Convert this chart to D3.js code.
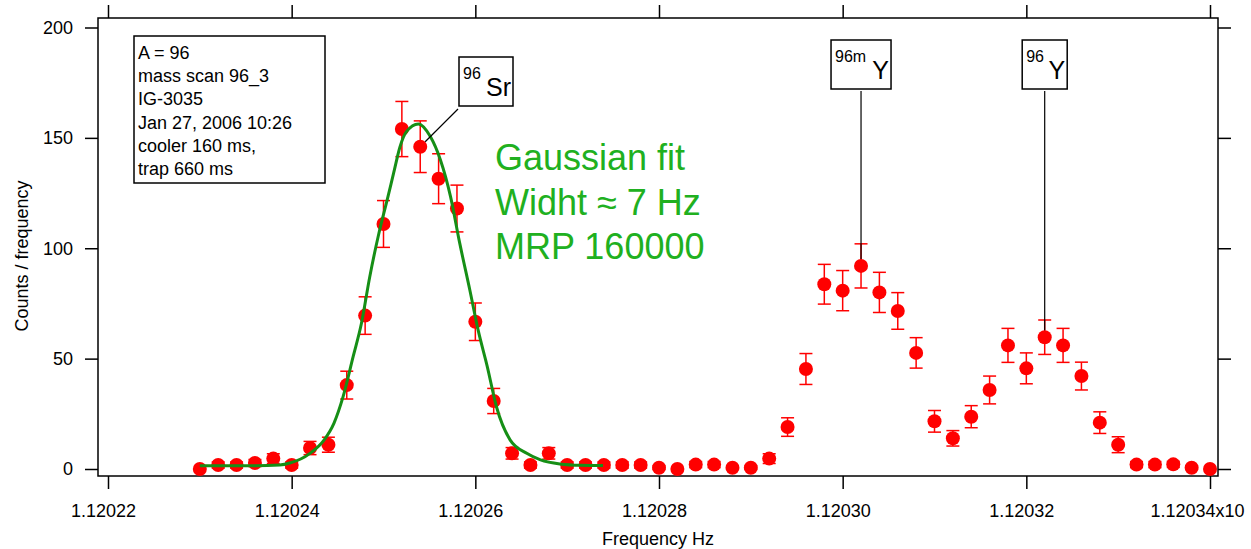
<!DOCTYPE html>
<html>
<head>
<meta charset="utf-8">
<script src="https://cdn.jsdelivr.net/npm/d3@7"></script>
<style>
  body { margin: 0; background: #fff; }
  text { font-family: Arial, "Liberation Sans", Helvetica, sans-serif; }
</style>
</head>
<body>
<div id="chart"></div>
<script>
// measured frequencies (Hz, x10^6)
var freqs = [1.120230, 1.120232, 1.120234, 1.120236, 1.120238, 1.120240, 1.120242, 1.120244,
  1.120246, 1.120248, 1.120250, 1.120252, 1.120254, 1.120256, 1.120258, 1.120260,
  1.120262, 1.120264, 1.120266, 1.120268, 1.120270, 1.120272, 1.120274, 1.120276,
  1.120278, 1.120280, 1.120282, 1.120284, 1.120286, 1.120288, 1.120290, 1.120292,
  1.120294, 1.120296, 1.120298, 1.120300, 1.120302, 1.120304, 1.120306, 1.120308,
  1.120310, 1.120312, 1.120314, 1.120316, 1.120318, 1.120320, 1.120322, 1.120324,
  1.120326, 1.120328, 1.120330, 1.120332, 1.120334, 1.120336, 1.120338, 1.120340];

var counts = [0, 1.8, 1.8, 2.7, 4.7, 1.8, 9.5, 11, 38, 69.5, 111, 154, 146, 131.5, 118, 66.7,
  30.8, 7.1, 1.8, 7.1, 1.8, 1.8, 1.8, 1.8, 1.8, 0.6, 0, 2, 2, 0.6, 0.6, 4.7,
  19, 45.3, 83.7, 80.8, 92, 80, 71.6, 52.6, 21.6, 13.9, 23.7, 35.8, 56, 45.6, 59.7, 56,
  42.1, 21, 11, 2, 2, 2.1, 0.6, 0];

var errors = [0, 1.4, 1.4, 1.6, 2.2, 1.4, 3, 3.4, 6.3, 8.5, 10.6, 12.5, 11.7, 11.3, 10.6, 8.5,
  5.7, 2.6, 1.4, 2.6, 1.4, 1.4, 1.4, 1.4, 1.4, 0.8, 0, 1.4, 1.4, 0.8, 0.8, 2.2,
  4.2, 7, 9, 9.1, 10, 9.1, 8.3, 6.9, 4.9, 3.5, 5, 6.3, 7.7, 7, 7.8, 7.7,
  6.3, 4.9, 3.6, 1.4, 1.4, 1.4, 0.8, 0];

// gaussian fit curve
var fitFreqs = [1.1202300, 1.1202360, 1.1202387, 1.1202398, 1.1202420, 1.1202435, 1.1202446,
  1.1202456, 1.1202467, 1.1202476, 1.1202485, 1.1202495, 1.1202504, 1.1202511, 1.1202518,
  1.1202525, 1.1202538, 1.1202551, 1.1202562, 1.1202573, 1.1202583, 1.1202594, 1.1202603,
  1.1202613, 1.1202623, 1.1202638, 1.1202656, 1.1202671, 1.1202692, 1.1202715, 1.1202739];
var fitCounts = [1.5, 1.5, 1.8, 2.7, 7.1, 13, 20.7,
  32.8, 51, 66, 87, 106.8, 121.9, 134, 146,
  152.8, 156.3, 150.6, 140, 123.4, 102.3, 81.1, 63,
  46.4, 28.2, 13.1, 7.1, 4.1, 2.3, 1.7, 1.6];

var xTicks = [1.12022, 1.12024, 1.12026, 1.12028, 1.12030, 1.12032, 1.12034];
var yTicks = [0, 50, 100, 150, 200];

var infoLines = ["A = 96", "mass scan 96_3", "IG-3035", "Jan 27, 2006 10:26", "cooler 160 ms,", "trap 660 ms"];
var fitLines = ["Gaussian fit", "Widht \u2248 7 Hz", "MRP 160000"];

var svgWidth = 1251, svgHeight = 549;
var frame = {left: 98, right: 1218, top: 18, bottom: 476};

var svg = d3.select("#chart").append("svg")
  .attr("width", svgWidth)
  .attr("height", svgHeight);

var x = d3.scaleLinear().domain([1.12022, 1.12034]).range([108, 1210]);
var y = d3.scaleLinear().domain([0, 200]).range([469, 27.5]);

var red = "#ff0000";

// axes
var fmt = d3.format(".5f");
var bottomAxis = d3.axisBottom(x).tickValues(xTicks).tickSize(13).tickSizeOuter(0).tickPadding(15)
  .tickFormat(d => d === 1.12034 ? "1.12034x10" : fmt(d));

var gx = svg.append("g")
  .attr("transform", `translate(0, ${frame.bottom})`)
  .call(bottomAxis);
gx.selectAll("text").attr("dx", -5);
gx.selectAll("text").filter(d => d === 1.12034)
  .attr("text-anchor", "start").attr("dx", -60);

svg.append("g")
  .attr("transform", `translate(0, ${frame.top})`)
  .call(d3.axisTop(x).tickValues(xTicks).tickSize(13).tickSizeOuter(0).tickFormat(""));

svg.append("g")
  .attr("transform", `translate(${frame.left}, 0)`)
  .call(d3.axisLeft(y).tickValues(yTicks).tickSize(13).tickSizeOuter(0).tickPadding(12));

svg.append("g")
  .attr("transform", `translate(${frame.right}, 0)`)
  .call(d3.axisRight(y).tickValues(yTicks).tickSize(13).tickSizeOuter(0).tickFormat(""));

svg.selectAll(".domain").remove();
svg.selectAll(".tick line").attr("stroke", "#000").attr("stroke-width", 1.5);
svg.selectAll(".tick text")
  .attr("fill", "#000")
  .style("font-size", "18px")
  .style("font-family", "Arial, 'Liberation Sans', Helvetica, sans-serif");

// frame
svg.append("rect")
  .attr("x", frame.left)
  .attr("y", frame.top)
  .attr("width", frame.right - frame.left)
  .attr("height", frame.bottom - frame.top)
  .attr("fill", "none")
  .attr("stroke", "#000")
  .attr("stroke-width", 1.5);

// axis titles
svg.append("text")
  .attr("x", (frame.left + frame.right) / 2)
  .attr("y", 545)
  .attr("text-anchor", "middle")
  .style("font-size", "18px")
  .text("Frequency Hz");

svg.append("text")
  .attr("transform", "rotate(-90)")
  .attr("x", -256)
  .attr("y", 28)
  .attr("text-anchor", "middle")
  .style("font-size", "18px")
  .text("Counts / frequency");

// error bars
var data = freqs.map((f, i) => ({f: f, c: counts[i], e: errors[i]}));
var bars = svg.append("g").attr("stroke", red).attr("stroke-width", 1.5);
var withErr = data.filter(d => d.e > 0);
bars.selectAll(".ev").data(withErr).enter().append("line")
  .attr("x1", d => x(d.f)).attr("x2", d => x(d.f))
  .attr("y1", d => y(d.c - d.e)).attr("y2", d => y(d.c + d.e));
bars.selectAll(".ct").data(withErr).enter().append("line")
  .attr("x1", d => x(d.f) - 6.5).attr("x2", d => x(d.f) + 6.5)
  .attr("y1", d => y(d.c + d.e)).attr("y2", d => y(d.c + d.e));
bars.selectAll(".cb").data(withErr).enter().append("line")
  .attr("x1", d => x(d.f) - 6.5).attr("x2", d => x(d.f) + 6.5)
  .attr("y1", d => y(d.c - d.e)).attr("y2", d => y(d.c - d.e));

// points
var radius = 7;
svg.append("g").selectAll("circle")
  .data(data)
  .enter()
  .append("circle")
  .attr("cx", d => x(d.f))
  .attr("cy", d => y(d.c))
  .attr("r", radius)
  .attr("fill", red);

// fit line
var fit = fitFreqs.map((f, i) => ({f: f, c: fitCounts[i]}));
svg.append("path")
  .datum(fit)
  .attr("d", d3.line().x(d => x(d.f)).y(d => y(d.c)).curve(d3.curveMonotoneX))
  .attr("fill", "none")
  .attr("stroke", "#168f16")
  .attr("stroke-width", 3);

// info box
svg.append("rect")
  .attr("x", 134).attr("y", 36).attr("width", 191).attr("height", 147)
  .attr("fill", "#fff").attr("stroke", "#000").attr("stroke-width", 1.5);
svg.append("g").selectAll("text")
  .data(infoLines)
  .enter()
  .append("text")
  .attr("x", 138)
  .attr("y", (d, i) => 58.7 + i * 23.3)
  .style("font-size", "18px")
  .text(d => d);

// fit annotation
svg.append("g").selectAll("text")
  .data(fitLines)
  .enter()
  .append("text")
  .attr("x", 495)
  .attr("y", (d, i) => 170 + i * 44.5)
  .attr("fill", "#20b020")
  .style("font-size", "36px")
  .text(d => d);

// peak labels
function peakLabel(idx, boxX, boxW, sup, sym, leader) {
  var d = data[idx];
  var px = x(d.f), py = y(d.c);
  var g = svg.append("g");
  var bx = boxX === null ? px - boxW / 2 : boxX;
  var by = leader === "down" ? 40 : 57;
  g.append("rect")
    .attr("x", bx).attr("y", by).attr("width", boxW).attr("height", 49)
    .attr("fill", "#fff").attr("stroke", "#000").attr("stroke-width", 1.5);
  g.append("text")
    .attr("x", bx + 4).attr("y", by + 22)
    .style("font-size", "16px")
    .text(sup);
  g.append("text")
    .attr("x", bx + boxW - 2).attr("y", by + 39)
    .attr("text-anchor", "end")
    .style("font-size", "25px")
    .text(sym);
  if (leader === "down") {
    g.append("line")
      .attr("x1", px).attr("x2", px)
      .attr("y1", by + 51).attr("y2", py - radius)
      .attr("stroke", "#000").attr("stroke-width", 1.2);
  } else {
    var sx = bx - 1, sy = by + 52;
    var ang = Math.atan2(py - sy, px - sx);
    g.append("line")
      .attr("x1", sx).attr("y1", sy)
      .attr("x2", px - radius * Math.cos(ang)).attr("y2", py - radius * Math.sin(ang))
      .attr("stroke", "#000").attr("stroke-width", 1.2);
  }
}

peakLabel(12, 459, 54, "96", "Sr", "diag");
peakLabel(36, null, 60, "96m", "Y", "down");
peakLabel(46, null, 45, "96", "Y", "down");
</script>
</body>
</html>
